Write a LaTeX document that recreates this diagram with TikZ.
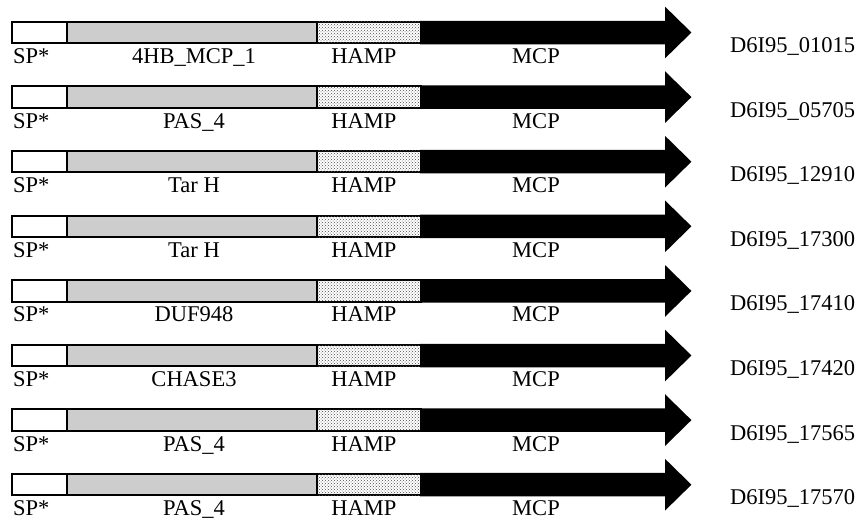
\documentclass[tikz,border=0pt]{standalone}
\usepackage{fontspec}
\setmainfont{Liberation Serif}
\usepackage{tikz}
\usetikzlibrary{positioning,calc}
\usetikzlibrary{patterns}
\definecolor{DomGray}{RGB}{205,205,205}
\tikzset{
  seg/.style={draw=black,line width=2pt,minimum height=21.5pt,inner sep=0pt,outer sep=0pt},
  sp/.style={seg,fill=white,minimum width=55pt},
  dom/.style={seg,fill=DomGray,minimum width=250pt},
  hampbox/.style={seg,fill=white,minimum width=104pt,
    postaction={pattern=crosshatch dots,pattern color=black!70}},
  mcpbar/.style={draw=black,fill=black,line width=2pt,line join=miter},
  lab/.style={font=\fontsize{22.5}{24}\selectfont,inner sep=0pt,anchor=base},
  gid/.style={lab,anchor=base west},
}

\begin{document}
\begin{tikzpicture}[x=1pt,y=1pt]
\useasboundingbox (0,0) rectangle (867,-530);
\coordinate (r1) at (12,-32.5);
\coordinate (r2) at (12,-97.1);
\coordinate (r3) at (12,-161.7);
\coordinate (r4) at (12,-226.3);
\coordinate (r5) at (12,-290.9);
\coordinate (r6) at (12,-355.5);
\coordinate (r7) at (12,-420.1);
\coordinate (r8) at (12,-484.7);
% row 1
\node[sp,right=0pt of r1] (sp1) {};
\node[dom,right=0pt of sp1] (dom1) {};
\node[hampbox,right=0pt of dom1] (hamp1) {};
\filldraw[mcpbar] (hamp1.north east) -- ++(245,0) -- ++(0,12.75) -- ++(24,-23.5) -- ++(-24,-23.5) -- ++(0,12.75) -- (hamp1.south east) -- cycle;
\node[lab,anchor=base west] (spl1) at ($(sp1.west)+(1,-31)$) {SP*};
\node[lab] (doml1) at ($(dom1.center)+(2,-31)$) {4HB\_MCP\_1};
\node[lab] (hampl1) at ($(hamp1.center)+(-5,-31)$) {HAMP};
\node[lab] (mcpl1) at ($(hamp1.east)+(115,-31)$) {MCP};
\node[gid] (id1) at ($(hamp1.east)+(309,-20)$) {D6I95\_01015};
% row 2
\node[sp,right=0pt of r2] (sp2) {};
\node[dom,right=0pt of sp2] (dom2) {};
\node[hampbox,right=0pt of dom2] (hamp2) {};
\filldraw[mcpbar] (hamp2.north east) -- ++(245,0) -- ++(0,12.75) -- ++(24,-23.5) -- ++(-24,-23.5) -- ++(0,12.75) -- (hamp2.south east) -- cycle;
\node[lab,anchor=base west] (spl2) at ($(sp2.west)+(1,-31)$) {SP*};
\node[lab] (doml2) at ($(dom2.center)+(2,-31)$) {PAS\_4};
\node[lab] (hampl2) at ($(hamp2.center)+(-5,-31)$) {HAMP};
\node[lab] (mcpl2) at ($(hamp2.east)+(115,-31)$) {MCP};
\node[gid] (id2) at ($(hamp2.east)+(309,-20)$) {D6I95\_05705};
% row 3
\node[sp,right=0pt of r3] (sp3) {};
\node[dom,right=0pt of sp3] (dom3) {};
\node[hampbox,right=0pt of dom3] (hamp3) {};
\filldraw[mcpbar] (hamp3.north east) -- ++(245,0) -- ++(0,12.75) -- ++(24,-23.5) -- ++(-24,-23.5) -- ++(0,12.75) -- (hamp3.south east) -- cycle;
\node[lab,anchor=base west] (spl3) at ($(sp3.west)+(1,-31)$) {SP*};
\node[lab] (doml3) at ($(dom3.center)+(2,-31)$) {Tar H};
\node[lab] (hampl3) at ($(hamp3.center)+(-5,-31)$) {HAMP};
\node[lab] (mcpl3) at ($(hamp3.east)+(115,-31)$) {MCP};
\node[gid] (id3) at ($(hamp3.east)+(309,-20)$) {D6I95\_12910};
% row 4
\node[sp,right=0pt of r4] (sp4) {};
\node[dom,right=0pt of sp4] (dom4) {};
\node[hampbox,right=0pt of dom4] (hamp4) {};
\filldraw[mcpbar] (hamp4.north east) -- ++(245,0) -- ++(0,12.75) -- ++(24,-23.5) -- ++(-24,-23.5) -- ++(0,12.75) -- (hamp4.south east) -- cycle;
\node[lab,anchor=base west] (spl4) at ($(sp4.west)+(1,-31)$) {SP*};
\node[lab] (doml4) at ($(dom4.center)+(2,-31)$) {Tar H};
\node[lab] (hampl4) at ($(hamp4.center)+(-5,-31)$) {HAMP};
\node[lab] (mcpl4) at ($(hamp4.east)+(115,-31)$) {MCP};
\node[gid] (id4) at ($(hamp4.east)+(309,-20)$) {D6I95\_17300};
% row 5
\node[sp,right=0pt of r5] (sp5) {};
\node[dom,right=0pt of sp5] (dom5) {};
\node[hampbox,right=0pt of dom5] (hamp5) {};
\filldraw[mcpbar] (hamp5.north east) -- ++(245,0) -- ++(0,12.75) -- ++(24,-23.5) -- ++(-24,-23.5) -- ++(0,12.75) -- (hamp5.south east) -- cycle;
\node[lab,anchor=base west] (spl5) at ($(sp5.west)+(1,-31)$) {SP*};
\node[lab] (doml5) at ($(dom5.center)+(2,-31)$) {DUF948};
\node[lab] (hampl5) at ($(hamp5.center)+(-5,-31)$) {HAMP};
\node[lab] (mcpl5) at ($(hamp5.east)+(115,-31)$) {MCP};
\node[gid] (id5) at ($(hamp5.east)+(309,-20)$) {D6I95\_17410};
% row 6
\node[sp,right=0pt of r6] (sp6) {};
\node[dom,right=0pt of sp6] (dom6) {};
\node[hampbox,right=0pt of dom6] (hamp6) {};
\filldraw[mcpbar] (hamp6.north east) -- ++(245,0) -- ++(0,12.75) -- ++(24,-23.5) -- ++(-24,-23.5) -- ++(0,12.75) -- (hamp6.south east) -- cycle;
\node[lab,anchor=base west] (spl6) at ($(sp6.west)+(1,-31)$) {SP*};
\node[lab] (doml6) at ($(dom6.center)+(2,-31)$) {CHASE3};
\node[lab] (hampl6) at ($(hamp6.center)+(-5,-31)$) {HAMP};
\node[lab] (mcpl6) at ($(hamp6.east)+(115,-31)$) {MCP};
\node[gid] (id6) at ($(hamp6.east)+(309,-20)$) {D6I95\_17420};
% row 7
\node[sp,right=0pt of r7] (sp7) {};
\node[dom,right=0pt of sp7] (dom7) {};
\node[hampbox,right=0pt of dom7] (hamp7) {};
\filldraw[mcpbar] (hamp7.north east) -- ++(245,0) -- ++(0,12.75) -- ++(24,-23.5) -- ++(-24,-23.5) -- ++(0,12.75) -- (hamp7.south east) -- cycle;
\node[lab,anchor=base west] (spl7) at ($(sp7.west)+(1,-31)$) {SP*};
\node[lab] (doml7) at ($(dom7.center)+(2,-31)$) {PAS\_4};
\node[lab] (hampl7) at ($(hamp7.center)+(-5,-31)$) {HAMP};
\node[lab] (mcpl7) at ($(hamp7.east)+(115,-31)$) {MCP};
\node[gid] (id7) at ($(hamp7.east)+(309,-20)$) {D6I95\_17565};
% row 8
\node[sp,right=0pt of r8] (sp8) {};
\node[dom,right=0pt of sp8] (dom8) {};
\node[hampbox,right=0pt of dom8] (hamp8) {};
\filldraw[mcpbar] (hamp8.north east) -- ++(245,0) -- ++(0,12.75) -- ++(24,-23.5) -- ++(-24,-23.5) -- ++(0,12.75) -- (hamp8.south east) -- cycle;
\node[lab,anchor=base west] (spl8) at ($(sp8.west)+(1,-31)$) {SP*};
\node[lab] (doml8) at ($(dom8.center)+(2,-31)$) {PAS\_4};
\node[lab] (hampl8) at ($(hamp8.center)+(-5,-31)$) {HAMP};
\node[lab] (mcpl8) at ($(hamp8.east)+(115,-31)$) {MCP};
\node[gid] (id8) at ($(hamp8.east)+(309,-20)$) {D6I95\_17570};
\end{tikzpicture}
\end{document}
